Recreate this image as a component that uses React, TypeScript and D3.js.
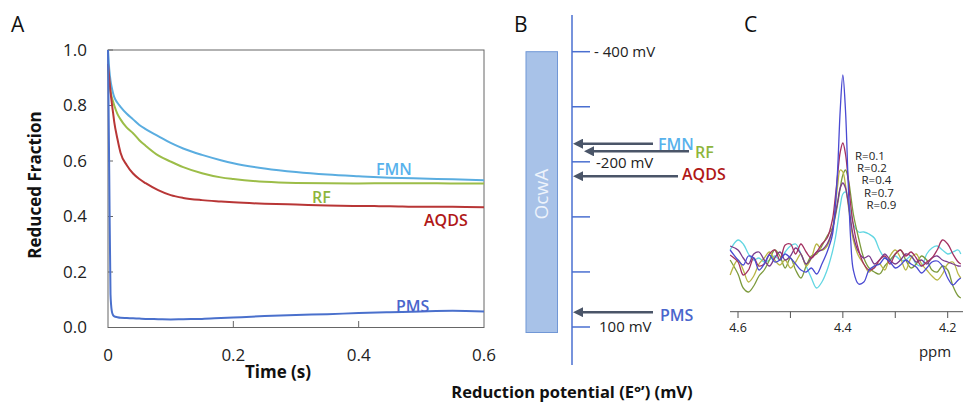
import React from "react";
import * as d3 from "d3";

// ---------- Panel A data ----------
const timeS = [0, 0.002, 0.004, 0.006, 0.008, 0.01, 0.015, 0.02, 0.03, 0.04, 0.05, 0.06, 0.08, 0.1, 0.12, 0.15, 0.18, 0.2, 0.25, 0.3, 0.35, 0.4, 0.45, 0.5, 0.55, 0.6];
const fmnA = [1.0, 0.93, 0.89, 0.865, 0.845, 0.83, 0.81, 0.795, 0.77, 0.75, 0.73, 0.715, 0.69, 0.665, 0.645, 0.622, 0.603, 0.592, 0.573, 0.56, 0.551, 0.545, 0.54, 0.537, 0.534, 0.531];
const rfA = [0.93, 0.88, 0.85, 0.83, 0.815, 0.8, 0.77, 0.75, 0.72, 0.7, 0.675, 0.655, 0.62, 0.598, 0.578, 0.556, 0.541, 0.535, 0.525, 0.521, 0.52, 0.519, 0.52, 0.52, 0.519, 0.519];
const aqdsA = [0.95, 0.9, 0.85, 0.81, 0.775, 0.74, 0.68, 0.63, 0.585, 0.555, 0.535, 0.52, 0.495, 0.477, 0.467, 0.459, 0.454, 0.451, 0.446, 0.443, 0.44, 0.438, 0.437, 0.435, 0.435, 0.433];
const pmsA = [1.0, 0.55, 0.12, 0.06, 0.045, 0.04, 0.037, 0.035, 0.034, 0.033, 0.032, 0.031, 0.03, 0.029, 0.03, 0.031, 0.034, 0.036, 0.041, 0.045, 0.048, 0.052, 0.055, 0.058, 0.06, 0.058];
const yTicksA = [0, 0.2, 0.4, 0.6, 0.8, 1.0];
const xTicksA = [0, 0.2, 0.4, 0.6];

// ---------- Panel B data ----------
const potTicks = [-400, -300, -200, -100, 0, 100];
const potLabels = [
  { v: -400, text: "- 400 mV" },
  { v: -200, text: "-200 mV" },
  { v: 100, text: "100 mV" },
];
const ocwaRange = [-400, 110];
const mediators = ["FMN", "RF", "AQDS", "PMS"];
const mediatorPot = [-233, -219, -174, 73];

// ---------- Panel C data ----------
const ppm = [4.615, 4.6, 4.59, 4.58, 4.57, 4.56, 4.55, 4.54, 4.53, 4.52, 4.51, 4.5, 4.49, 4.48, 4.47, 4.46, 4.45, 4.44, 4.43, 4.42, 4.415, 4.41, 4.405, 4.4, 4.395, 4.39, 4.385, 4.38, 4.37, 4.36, 4.35, 4.34, 4.33, 4.32, 4.31, 4.3, 4.29, 4.28, 4.27, 4.26, 4.25, 4.24, 4.23, 4.22, 4.21, 4.2, 4.19, 4.18, 4.175];
const specBlue = [5.0, 4.0, 3.5, 4.4, 4.2, 3.0, 3.6, 4.5, 3.8, 4.0, 4.6, 4.2, 3.6, 3.0, 2.8, 3.2, 2.6, 3.6, 4.8, 6.5, 9, 13, 19, 22.5, 19, 12, 6, 3, 1.6, 1.8, 3.0, 3.4, 3.6, 4.2, 3.8, 3.2, 3.5, 4.0, 3.6, 3.3, 2.7, 3.2, 3.8, 3.9, 3.4, 2.2, 1.5, 2.0, 2.2];
const specMaroon = [4.5, 3.8, 2.5, 3.0, 4.2, 3.4, 3.6, 4.6, 5.0, 4.0, 5.5, 5.6, 4.6, 5.6, 4.8, 4.2, 4.8, 5.6, 6.2, 8, 10, 12.5, 14.8, 15.7, 14.6, 12.2, 9.5, 7.5, 5.0, 3.6, 3.0, 3.2, 4.0, 4.4, 3.6, 4.6, 5.0, 4.4, 4.8, 4.2, 3.4, 3.8, 4.2, 5.0, 6.0, 5.6, 4.6, 3.8, 3.6];
const specYellow = [2.5, 4.0, 3.0, 1.8, 2.4, 3.6, 4.2, 4.8, 4.0, 3.5, 4.0, 3.2, 3.8, 4.6, 3.4, 4.2, 5.6, 5.0, 5.4, 7.0, 9.0, 11.4, 13.0, 12.8, 11.5, 9.6, 7.6, 6.0, 4.4, 3.6, 2.8, 3.4, 3.6, 3.0, 4.4, 5.0, 4.2, 3.0, 4.2, 4.6, 3.6, 3.0, 2.4, 2.0, 2.6, 3.6, 3.8, 2.6, 2.2];
const specGreen = [4.0, 2.6, 1.2, 0.8, 1.4, 2.4, 3.0, 4.0, 5.0, 4.4, 3.2, 4.2, 3.0, 2.2, 3.4, 4.4, 4.6, 5.4, 6.4, 7.2, 8.2, 9.6, 11.2, 12.5, 13.0, 12.2, 10.5, 8.6, 6.2, 4.2, 3.2, 2.8, 2.6, 3.4, 4.0, 4.6, 5.0, 4.0, 3.2, 3.6, 4.4, 4.0, 3.0, 2.8, 3.4, 3.0, 1.4, 0.4, 0.2];
const specPurple = [5.4, 5.0, 4.2, 3.6, 4.6, 4.8, 4.0, 3.4, 4.2, 4.8, 4.0, 4.4, 5.2, 4.6, 3.6, 4.2, 4.8, 5.0, 5.6, 7.0, 8.4, 9.8, 11.2, 11.7, 11.2, 9.8, 8.0, 6.4, 4.8, 4.2, 4.4, 3.6, 4.0, 4.6, 4.0, 3.6, 4.0, 4.6, 4.4, 3.8, 4.0, 3.6, 4.2, 4.4, 4.0, 3.8, 3.6, 3.4, 3.4];
const specCyan = [5.0, 6.0, 5.6, 4.6, 4.0, 4.2, 3.8, 4.0, 4.4, 4.0, 4.8, 5.4, 5.6, 4.6, 3.4, 2.2, 1.2, 1.8, 3.0, 4.8, 6.0, 7.6, 9.4, 10.6, 10.8, 10.0, 8.8, 7.6, 6.8, 6.8, 6.6, 6.2, 5.0, 4.2, 4.0, 4.4, 4.0, 4.0, 4.4, 3.6, 3.4, 4.6, 5.2, 5.4, 5.0, 4.6, 4.8, 5.0, 4.6];
const ppmTicks = [4.6, 4.5, 4.4, 4.3, 4.2];
const ppmLabels = [4.6, 4.4, 4.2];
const rLabels = ["R=0.1", "R=0.2", "R=0.4", "R=0.7", "R=0.9"];

const FONT = "'Open Sans', 'Liberation Sans', sans-serif";

export default function App() {
  // Panel A scales
  const xA = d3.scaleLinear().domain([0, 0.6]).range([108, 484]);
  const yA = d3.scaleLinear().domain([0, 1]).range([327.5, 50]);
  const lineA = (vals: number[]) =>
    d3
      .line<number>()
      .x((_, i) => xA(timeS[i]))
      .y((d) => yA(d))
      .curve(d3.curveMonotoneX)(vals) as string;
  const seriesA = [
    { vals: fmnA, color: "#5aade0" },
    { vals: rfA, color: "#9cbd48" },
    { vals: aqdsA, color: "#b83636" },
    { vals: pmsA, color: "#4a70cc" },
  ];
  const labelsA = [
    { t: "FMN", x: 376, y: 175, c: "#58b2ec" },
    { t: "RF", x: 312, y: 203, c: "#8db53c" },
    { t: "AQDS", x: 424, y: 226, c: "#b01818" },
    { t: "PMS", x: 396, y: 312, c: "#4a66cc" },
  ];

  // Panel B scales
  const yB = d3.scaleLinear().domain([-400, 100]).range([51.7, 327]);
  const axisB = 572;
  const arrows = [
    { tip: 576, tail: 653, lx: 658, ly: 150, c: "#58b2ec" },
    { tip: 587, tail: 689, lx: 695, ly: 158, c: "#8db53c" },
    { tip: 576, tail: 678, lx: 682, ly: 180, c: "#b01818" },
    { tip: 576, tail: 653, lx: 660, ly: 321, c: "#4a66cc" },
  ];

  // Panel C scales
  const xC = d3.scaleLinear().domain([4.6, 4.2]).range([738, 947.7]);
  const yC = d3.scaleLinear().domain([0, 25]).range([300, 50]);
  const lineC = (vals: number[]) =>
    d3
      .line<number>()
      .x((_, i) => xC(ppm[i]))
      .y((d) => yC(d))
      .curve(d3.curveCatmullRom.alpha(0.5))(vals) as string;
  const seriesC = [
    { vals: specCyan, color: "#62d6e2" },
    { vals: specGreen, color: "#7c9a3c" },
    { vals: specYellow, color: "#b8b644" },
    { vals: specPurple, color: "#7a3a8c" },
    { vals: specMaroon, color: "#a33060" },
    { vals: specBlue, color: "#4a4ad2" },
  ];
  const rX = [855, 857, 861.5, 864, 866.5];
  const rY = [156, 168, 180, 192.5, 205];

  return (
    <svg
      width={963}
      height={404}
      style={{ position: "absolute", left: 0, top: 0, background: "#fff" }}
      fontFamily={FONT}
    >
      <defs>
        <marker id="ah" viewBox="0 0 10 10" refX="1" refY="5" markerWidth="4" markerHeight="4" orient="auto-start-reverse">
          <path d="M0,0 L10,5 L0,10 z" fill="#4a5568" />
        </marker>
      </defs>

      {/* ---------------- Panel A ---------------- */}
      <text x={11} y={32} fontSize={21} fill="#111">A</text>
      <rect x={108} y={50} width={376} height={277.5} fill="none" stroke="#666" strokeWidth={1} />
      {yTicksA.map((v) => (
        <g key={"ya" + v}>
          <line x1={108} x2={113} y1={yA(v)} y2={yA(v)} stroke="#666" />
          <text x={87} y={yA(v)} dy="0.35em" textAnchor="end" fontSize={17} fill="#222">
            {v.toFixed(1)}
          </text>
        </g>
      ))}
      {xTicksA.map((v) => (
        <g key={"xa" + v}>
          {v > 0 && v < 0.6 && <line x1={xA(v)} x2={xA(v)} y1={327.5} y2={321} stroke="#666" />}
          <text x={xA(v)} y={355} dy="0.35em" textAnchor="middle" fontSize={17} fill="#222">
            {v === 0 ? "0" : String(v)}
          </text>
        </g>
      ))}
      {seriesA.map((s, i) => (
        <path key={"sa" + i} d={lineA(s.vals)} fill="none" stroke={s.color} strokeWidth={2} />
      ))}
      {labelsA.map((l) => (
        <text key={l.t} x={l.x} y={l.y} fontSize={16} fontWeight={600} fill={l.c}>
          {l.t}
        </text>
      ))}
      <text x={278} y={378} textAnchor="middle" fontSize={17} fontWeight={700} fill="#111">
        Time (s)
      </text>
      <text
        transform="translate(41,185) rotate(-90)"
        textAnchor="middle"
        fontSize={17}
        fontWeight={700}
        fill="#111"
      >
        Reduced Fraction
      </text>

      {/* ---------------- Panel B ---------------- */}
      <text x={514} y={32} fontSize={21} fill="#111">B</text>
      <rect
        x={526}
        y={yB(ocwaRange[0])}
        width={31.5}
        height={yB(ocwaRange[1]) - yB(ocwaRange[0])}
        fill="#a8c2e8"
        stroke="#7197d6"
        strokeWidth={1}
      />
      <text
        transform={`translate(548,${(yB(ocwaRange[0]) + yB(ocwaRange[1])) / 2 + 2}) rotate(-90)`}
        textAnchor="middle"
        fontSize={19}
        fill="#eef3fb"
      >
        OcwA
      </text>
      <line x1={axisB} x2={axisB} y1={15} y2={365} stroke="#4a6fd0" strokeWidth={1.5} />
      {potTicks.map((v) => (
        <line key={"pt" + v} x1={axisB} x2={590} y1={yB(v)} y2={yB(v)} stroke="#4a6fd0" strokeWidth={1.5} />
      ))}
      {potLabels.map((p) => (
        <text key={"pl" + p.v} x={p.v === -400 ? 594 : p.v === -200 ? 596 : 599} y={yB(p.v) + (p.v === -400 ? 5.5 : p.v === -200 ? 6 : 5)} fontSize={15} fill="#222">
          {p.text}
        </text>
      ))}
      {mediators.map((m, i) => (
        <g key={"ar" + m}>
          <line
            x1={arrows[i].tail}
            x2={arrows[i].tip + 6}
            y1={yB(mediatorPot[i])}
            y2={yB(mediatorPot[i])}
            stroke="#4a5568"
            strokeWidth={2.5}
            markerEnd="url(#ah)"
          />
          <text x={arrows[i].lx} y={arrows[i].ly} fontSize={16} fontWeight={600} fill={arrows[i].c}>
            {m}
          </text>
        </g>
      ))}
      <text x={572} y={398} textAnchor="middle" fontSize={16.5} fontWeight={700} fill="#111">
        Reduction potential (E°’) (mV)
      </text>

      {/* ---------------- Panel C ---------------- */}
      <text x={744} y={32} fontSize={21} fill="#111">C</text>
      {seriesC.map((s, i) => (
        <path key={"sc" + i} d={lineC(s.vals)} fill="none" stroke={s.color} strokeWidth={1.3} />
      ))}
      {rLabels.map((r, i) => (
        <text key={r} x={rX[i]} y={rY[i]} dy="0.35em" fontSize={11.5} fill="#222">
          {r}
        </text>
      ))}
      <line x1={730} x2={963} y1={311.7} y2={311.7} stroke="#555" strokeWidth={1} />
      {ppmTicks.map((v) => (
        <line key={"ct" + v} x1={xC(v)} x2={xC(v)} y1={311.7} y2={318} stroke="#555" strokeWidth={1} />
      ))}
      {ppmLabels.map((v) => (
        <text key={"cl" + v} x={xC(v)} y={328} dy="0.35em" textAnchor="middle" fontSize={12.5} fill="#222">
          {v.toFixed(1)}
        </text>
      ))}
      <text x={935} y={357} textAnchor="middle" fontSize={15} fill="#222">
        ppm
      </text>
    </svg>
  );
}
